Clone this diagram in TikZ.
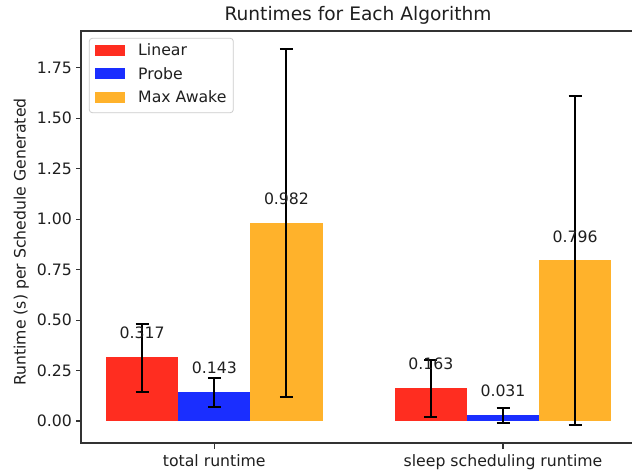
\documentclass[tikz,border=0pt]{standalone}
\usepackage{fontspec}
\setmainfont{DejaVu Sans}
\definecolor{cred}{RGB}{255,45,32}
\definecolor{cblue}{RGB}{26,46,255}
\definecolor{corange}{RGB}{255,178,43}
\begin{document}
\begin{tikzpicture}[x=1pt,y=-1pt,
  txt/.style={font=\fontsize{15.7}{18}\selectfont, text=black!88, inner sep=0pt},
  ttl/.style={font=\fontsize{18.6}{22}\selectfont, text=black!88, inner sep=0pt},
  spine/.style={draw=black!80, line width=1.1pt},
  tickmark/.style={draw=black!80, line width=1.1pt},
  ebar/.style={draw=black, line width=2pt}]
\useasboundingbox (0,0) rectangle (632,476);
\fill[white] (0,0) rectangle (632,476);

% data area
\begin{scope}[shift={(214.3,421)}, x=288.7pt, y=201.9pt]
  % bars
  \fill[cred]    (-0.375,0) rectangle (-0.125,0.317);
  \fill[cblue]   (-0.125,0) rectangle ( 0.125,0.143);
  \fill[corange] ( 0.125,0) rectangle ( 0.375,0.982);
  \fill[cred]    ( 0.625,0) rectangle ( 0.875,0.163);
  \fill[cblue]   ( 0.875,0) rectangle ( 1.125,0.031);
  \fill[corange] ( 1.125,0) rectangle ( 1.375,0.796);
  % error bars
  \foreach \x/\v/\e in {-0.25/0.3125/0.1675, 0/0.143/0.0715, 0.25/0.981/0.861,
                        0.75/0.1615/0.1405, 1/0.0275/0.0355, 1.25/0.795/0.815}{
    \draw[ebar] (\x,\v-\e) -- (\x,\v+\e);
    \draw[ebar] (\x-0.0225,\v-\e) -- (\x+0.0225,\v-\e);
    \draw[ebar] (\x-0.0225,\v+\e) -- (\x+0.0225,\v+\e);
  }
  % value labels
  \node[txt, anchor=base] (v1) at (-0.25, 0.407) {0.317};
  \node[txt, anchor=base] (v2) at (0, 0.233) {0.143};
  \node[txt, anchor=base] (v3) at (0.25, 1.072) {0.982};
  \node[txt, anchor=base] (v4) at (0.75, 0.253) {0.163};
  \node[txt, anchor=base] (v5) at (1, 0.121) {0.031};
  \node[txt, anchor=base] (v6) at (1.25, 0.886) {0.796};
  % y ticks
  \foreach \v/\t [count=\i] in {0/0.00, 0.25/0.25, 0.5/0.50, 0.75/0.75, 1/1.00, 1.25/1.25, 1.5/1.50, 1.75/1.75}{
    \coordinate (yc\i) at (-0.4617,\v);
    \draw[tickmark] (yc\i) -- ++(-5.5pt,0);
    \node[txt, anchor=east] (yt\i) at ([xshift=-9pt]yc\i) {\t};
  }
  % x ticks
  \coordinate (xc1) at (0,-0.109);
  \coordinate (xc2) at (1,-0.109);
  \draw[tickmark] (xc1) -- ++(0,-5.5pt);
  \draw[tickmark] (xc2) -- ++(0,-5.5pt);
  \node[txt, anchor=north] (xt1) at ([yshift=-11.5pt]xc1) {total runtime};
  \node[txt, anchor=north] (xt2) at ([yshift=-11.5pt]xc2) {sleep scheduling runtime};
\end{scope}

% spines
\draw[spine] (81,31) -- (81,443);
\draw[spine] (80.45,31) -- (632,31);
\draw[spine] (80.45,443) -- (632,443);

% title and axis label
\node[ttl, anchor=base] (title) at (358,21) {Runtimes for Each Algorithm};
\node[txt, rotate=90, anchor=base] (ylab) at (25.5,242) {Runtime (s) per Schedule Generated};

% legend
\draw[draw=black!20, fill=white, fill opacity=0.8, rounded corners=3pt, line width=0.8pt]
  (89.3,38.3) rectangle (233.3,112.7);
\fill[cred]    (95,45) rectangle (125,56);
\fill[cblue]   (95,68.3) rectangle (125,79.3);
\fill[corange] (95,91.7) rectangle (125,102.7);
\node[txt, anchor=base west] (lg1) at (138,56) {Linear};
\node[txt, anchor=base west] (lg2) at (138,79.3) {Probe};
\node[txt, anchor=base west] (lg3) at (138,102.7) {Max Awake};
\end{tikzpicture}
\end{document}
